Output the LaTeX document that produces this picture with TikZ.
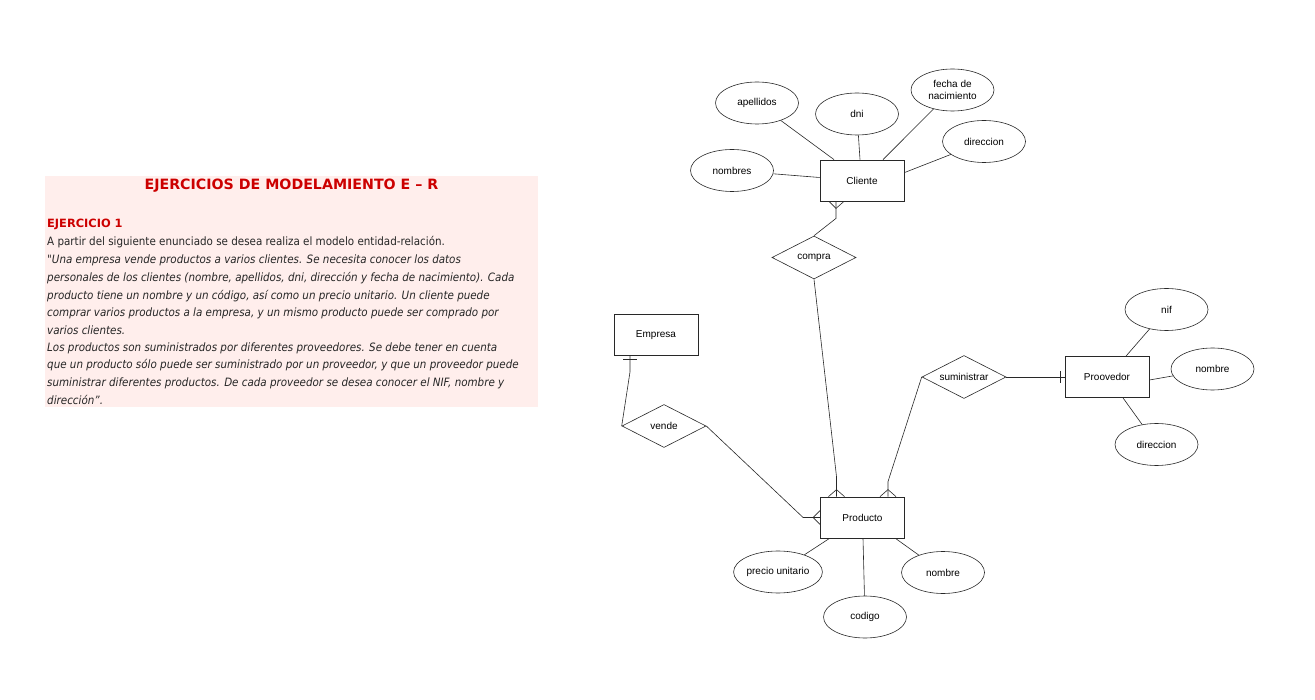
\documentclass[tikz,border=0pt]{standalone}
\usepackage{fontspec}
\setmainfont{Liberation Sans}
\newfontfamily\verd{DejaVu Sans}
\newfontfamily\verdc{DejaVu Sans Condensed}
\usetikzlibrary{shapes.geometric}
\definecolor{pinkbg}{RGB}{255,238,236}
\definecolor{titred}{RGB}{204,0,0}
\definecolor{ln}{RGB}{40,40,40}
\begin{document}
\begin{tikzpicture}[x=1pt,y=-1pt,
  ent/.style={draw=ln,line width=0.8pt,rectangle,minimum width=84pt,minimum height=41pt,inner sep=0pt,font=\fontsize{10}{12}\selectfont},
  attr/.style={draw=ln,line width=0.6pt,ellipse,minimum width=83pt,minimum height=42pt,inner sep=0pt,align=center,font=\fontsize{10}{11.5}\selectfont},
  rel/.style={draw=ln,line width=0.6pt,diamond,minimum width=84pt,minimum height=43pt,inner sep=0pt,font=\fontsize{10}{12}\selectfont},
  conn/.style={draw=ln,line width=0.6pt},
  bodyline/.style={anchor=west,inner sep=0pt,font=\verdc\fontsize{11.5}{13}\selectfont,text=black!85},
  bodyit/.style={bodyline,font=\verdc\itshape\fontsize{11.5}{13}\selectfont}
]
\useasboundingbox (0,0) rectangle (1315,700);
\fill[white] (0,0) rectangle (1315,700);
% text panel
\fill[pinkbg] (45,176) rectangle (538,407);
\node[inner sep=0pt,text=titred,font=\verd\bfseries\fontsize{14.2}{16}\selectfont] (title) at (291.5,186) {EJERCICIOS DE MODELAMIENTO E – R};
\node[anchor=west,inner sep=0pt,text=titred,font=\verd\bfseries\fontsize{11.4}{13}\selectfont] (ej) at (47,224.5) {EJERCICIO 1};
\node[bodyline] (l1) at (47,242.5) {A partir del siguiente enunciado se desea realiza el modelo entidad-relación.};
\node[bodyit] (l2) at (47,260) {"Una empresa vende productos a varios clientes. Se necesita conocer los datos};
\node[bodyit] (l3) at (47,278) {personales de los clientes (nombre, apellidos, dni, dirección y fecha de nacimiento). Cada};
\node[bodyit] (l4) at (47,296) {producto tiene un nombre y un código, así como un precio unitario. Un cliente puede};
\node[bodyit] (l5) at (47,313) {comprar varios productos a la empresa, y un mismo producto puede ser comprado por};
\node[bodyit] (l6) at (47,330.5) {varios clientes.};
\node[bodyit] (l7) at (47,348) {Los productos son suministrados por diferentes proveedores. Se debe tener en cuenta};
\node[bodyit] (l8) at (47,365.5) {que un producto sólo puede ser suministrado por un proveedor, y que un proveedor puede};
\node[bodyit] (l9) at (47,383) {suministrar diferentes productos. De cada proveedor se desea conocer el NIF, nombre y};
\node[bodyit] (l10) at (47,400) {dirección”.};

% entities
\node[ent] (cli) at (862,180.5) {Cliente};
\node[ent] (prod) at (862.5,517.5) {Producto};
\node[ent] (emp) at (656,335) {Empresa};
\node[ent] (prov) at (1107,377) {Proovedor};
% relations
\node[rel] (compra) at (814,257.5) {\makebox[0pt]{compra}};
\node[rel] (vende) at (664,426) {\makebox[0pt]{vende}};
\node[rel] (sum) at (964,377) {\makebox[0pt]{suministrar}};
% attributes
\node[attr] (ape) at (757,103) {apellidos};
\node[attr] (dni) at (857,114) {dni};
\node[attr] (fecha) at (952.5,90) {fecha de\\nacimiento};
\node[attr] (dirc) at (984,141.5) {direccion};
\node[attr] (nom) at (732,170.5) {nombres};
\node[attr] (nif) at (1166.5,309.5) {nif};
\node[attr] (nomp) at (1212.5,369) {nombre};
\node[attr] (dirp) at (1156.5,444.5) {direccion};
\node[attr] (prec) at (778,572) {precio unitario};
\node[attr] (nompr) at (943,572.5) {nombre};
\node[attr] (cod) at (865,617) {codigo};

% attribute links
\draw[conn] (ape) -- ([xshift=-28pt]cli.north);
\draw[conn] (dni) -- ([xshift=-2pt]cli.north);
\draw[conn] (fecha) -- ([xshift=21pt]cli.north);
\draw[conn] (dirc) -- ([yshift=-13pt]cli.north east);
\draw[conn] (nom) -- ([yshift=3pt]cli.west);
\draw[conn] (nif) -- ([xshift=19pt]prov.north);
\draw[conn] (nomp) -- ([yshift=-3pt]prov.east);
\draw[conn] (dirp) -- ([xshift=16pt]prov.south);
\draw[conn] (prec) -- ([xshift=-33pt]prod.south);
\draw[conn] (cod) -- ([xshift=0.5pt]prod.south);
\draw[conn] (nompr) -- ([xshift=33pt]prod.south);

% Cliente -- compra (many at Cliente)
\draw[conn] ([xshift=-26pt]cli.south) -- ([xshift=-26pt,yshift=-17pt]cli.south) -- (compra.north);
\draw[conn] ([xshift=-33pt]cli.south) -- ([xshift=-26pt,yshift=-7pt]cli.south) -- ([xshift=-18pt]cli.south);
% compra -- Producto (many at Producto)
\draw[conn] (compra.south) -- ([xshift=-26pt,yshift=20pt]prod.north) -- ([xshift=-26pt]prod.north);
\draw[conn] ([xshift=-34pt]prod.north) -- ([xshift=-26pt,yshift=7pt]prod.north) -- ([xshift=-18pt]prod.north);
% suministrar -- Producto (many at Producto)
\draw[conn] (sum.west) -- ([xshift=25.5pt,yshift=15pt]prod.north) -- ([xshift=25.5pt]prod.north);
\draw[conn] ([xshift=17.5pt]prod.north) -- ([xshift=25.5pt,yshift=7pt]prod.north) -- ([xshift=33.5pt]prod.north);
% suministrar -- Proovedor (one at Proovedor)
\draw[conn] (sum.east) -- (prov.west);
\draw[conn,line width=0.9pt] ([xshift=-4pt,yshift=6pt]prov.west) -- ([xshift=-4pt,yshift=-6pt]prov.west);
% Empresa -- vende (one at Empresa)
\draw[conn] ([xshift=-26pt]emp.south) -- ([xshift=-26pt,yshift=-16pt]emp.south) -- (vende.west);
\draw[conn,line width=0.9pt] ([xshift=-33pt,yshift=-4pt]emp.south) -- ([xshift=-19pt,yshift=-4pt]emp.south);
% vende -- Producto (many at Producto)
\draw[conn] (vende.east) -- ([xshift=-17pt]prod.west) -- (prod.west);
\draw[conn] ([yshift=7pt]prod.west) -- ([xshift=-7pt]prod.west) -- ([yshift=-7pt]prod.west);
\end{tikzpicture}
\end{document}
